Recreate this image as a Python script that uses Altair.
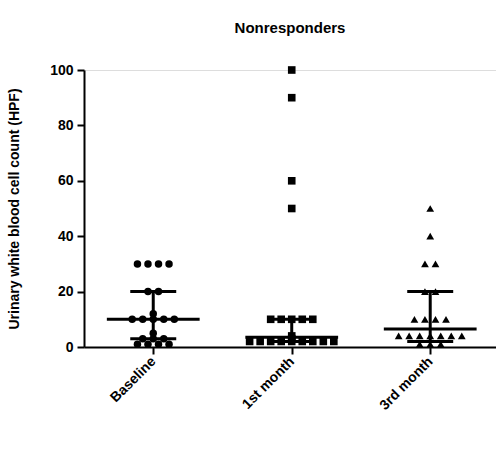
import altair as alt
import pandas as pd

groups = ["Baseline", "1st month", "3rd month"]
shapes = ["circle", "square", "triangle-up"]
marker_sizes = [56, 60, 72]

baseline = [30, 30, 30, 30, 20, 20, 12, 10, 10, 10, 10, 10, 5, 3, 3, 3, 1, 1, 1, 1]
month1 = [100, 90, 60, 50, 10, 10, 10, 10, 10, 4, 3, 2, 2, 2, 2, 2, 2, 2, 2, 2]
month3 = [50, 40, 30, 30, 20, 20, 10, 10, 10, 10, 4, 4, 4, 4, 4, 4, 4, 1, 1, 1]

medians = [10, 3.5, 6.5]
q1 = [3, 2, 2]
q3 = [20, 10, 20]

y_ticks = [0, 20, 40, 60, 80, 100]

rows = []
for gi, (g, vals) in enumerate(zip(groups, [baseline, month1, month3])):
    for v in vals:
        rows.append({"group": g, "gi": gi, "value": v})
points = pd.DataFrame(rows)
summary = pd.DataFrame({"group": groups, "gi": [0, 1, 2],
                        "median": medians, "q1": q1, "q3": q3})

FONT = "Liberation Sans"
xscale = alt.Scale(domain=[-0.5, 2.475], nice=False, zero=False)
yscale = alt.Scale(domain=[0, 100], nice=False)

label_expr = "datum.value == 0 ? 'Baseline' : datum.value == 1 ? '1st month' : '3rd month'"
x_axis = alt.Axis(values=[0, 1, 2], labelExpr=label_expr, title=None, grid=False,
                  labelAngle=-45, labelAlign="right", labelBaseline="middle",
                  labelFont=FONT, labelFontSize=14, labelFontWeight="bold",
                  labelColor="black", labelPadding=5,
                  domainColor="black", domainWidth=2, tickColor="black",
                  tickWidth=2, tickSize=7)
y_axis = alt.Axis(values=y_ticks, title="Urinary white blood cell count (HPF)",
                  grid=False, labelFont=FONT, labelFontSize=14,
                  labelFontWeight="bold", labelColor="black", labelPadding=4,
                  titleFont=FONT, titleFontSize=14, titleFontWeight="bold",
                  titleColor="black", titleX=-70, titleBaseline="middle",
                  domainColor="black", domainWidth=2, tickColor="black",
                  tickWidth=2, tickSize=7)

pts = alt.Chart(points).transform_window(
    rank="row_number()", groupby=["group", "value"]
).transform_joinaggregate(
    n="count()", groupby=["group", "value"]
).transform_calculate(
    xpos="datum.gi + (datum.rank - (datum.n + 1) / 2) * 0.076"
).mark_point(filled=True, opacity=1, color="black").encode(
    x=alt.X("xpos:Q", scale=xscale, axis=x_axis),
    y=alt.Y("value:Q", scale=yscale, axis=y_axis),
    shape=alt.Shape("group:N", scale=alt.Scale(domain=groups, range=shapes), legend=None),
    size=alt.Size("group:N", scale=alt.Scale(domain=groups, range=marker_sizes), legend=None),
)

vert = alt.Chart(summary).mark_rule(color="black", strokeWidth=3).encode(
    x=alt.X("gi:Q", scale=xscale, axis=x_axis),
    y=alt.Y("q1:Q", scale=yscale, axis=y_axis),
    y2="q3:Q",
)

med = alt.Chart(summary).transform_calculate(
    xl="datum.gi - 0.335", xr="datum.gi + 0.335"
).mark_rule(color="black", strokeWidth=3).encode(
    x=alt.X("xl:Q", scale=xscale, axis=x_axis),
    x2="xr:Q",
    y=alt.Y("median:Q", scale=yscale, axis=y_axis),
)

cap_hi = alt.Chart(summary).transform_calculate(
    xl="datum.gi - 0.166", xr="datum.gi + 0.166"
).mark_rule(color="black", strokeWidth=3).encode(
    x=alt.X("xl:Q", scale=xscale, axis=x_axis),
    x2="xr:Q",
    y=alt.Y("q3:Q", scale=yscale, axis=y_axis),
)

cap_lo = alt.Chart(summary).transform_calculate(
    xl="datum.gi - 0.166", xr="datum.gi + 0.166"
).mark_rule(color="black", strokeWidth=3).encode(
    x=alt.X("xl:Q", scale=xscale, axis=x_axis),
    x2="xr:Q",
    y=alt.Y("q1:Q", scale=yscale, axis=y_axis),
)

chart = alt.layer(vert, med, cap_hi, cap_lo, pts).properties(
    width=412,
    height=277,
    autosize=alt.AutoSizeParams(type="none"),
    padding={"left": 84, "top": 70, "right": 0, "bottom": 104},
    title=alt.TitleParams("Nonresponders", font=FONT, fontSize=15,
                          fontWeight="bold", color="black", anchor="middle",
                          frame="group", offset=27),
).configure_view(stroke=None).configure(background="white")

chart.save("out.html", embed_options={"renderer": "svg", "actions": False})
